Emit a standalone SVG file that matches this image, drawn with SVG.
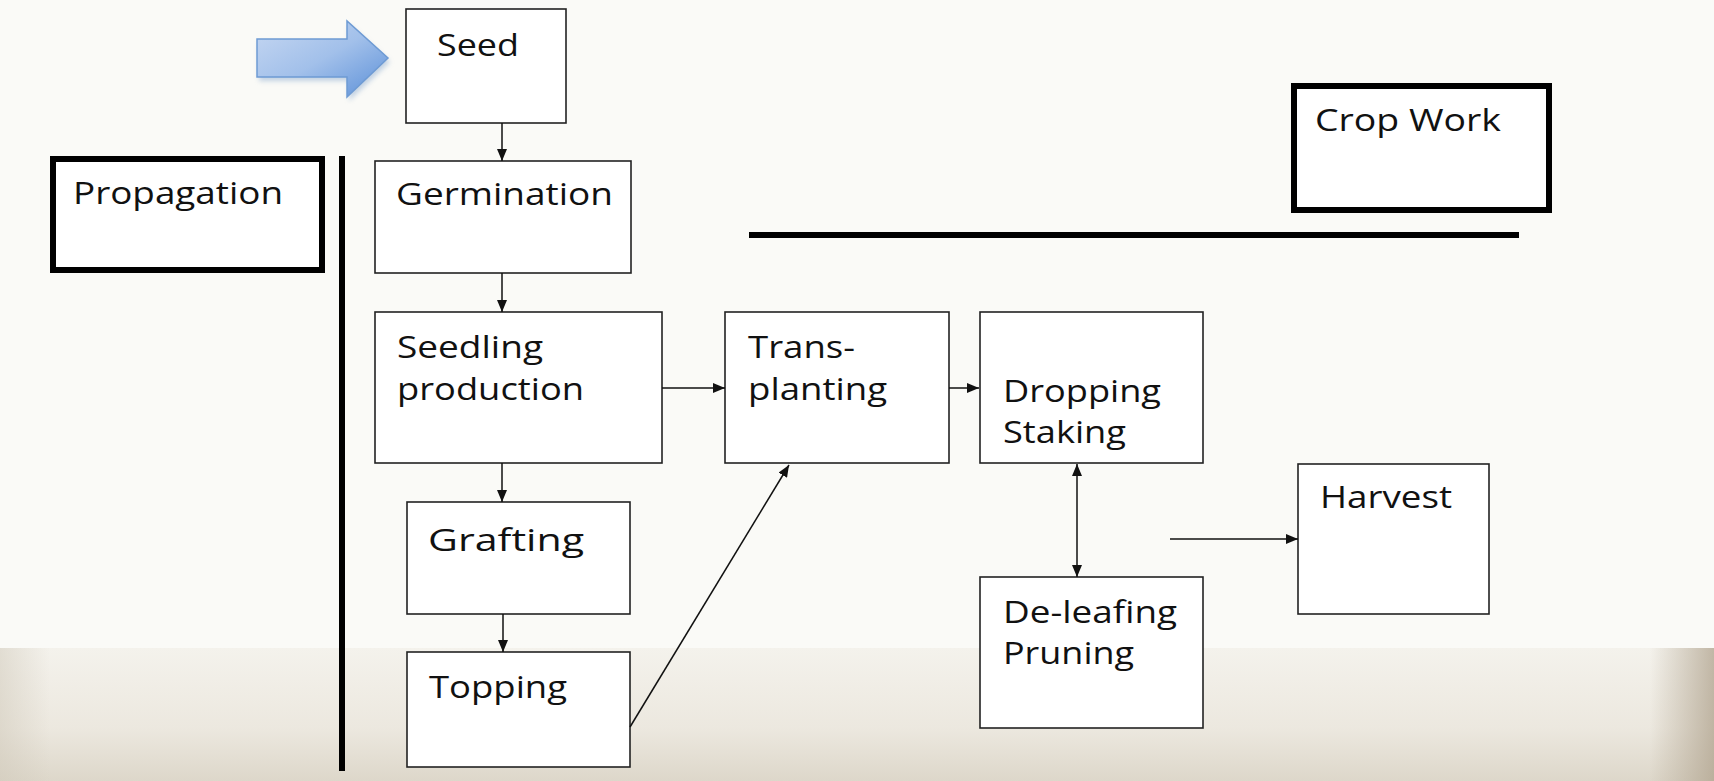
<svg xmlns="http://www.w3.org/2000/svg" width="1714" height="781" viewBox="0 0 1714 781">
<defs>
<linearGradient id="bgLow" x1="0" y1="0" x2="0" y2="1">
<stop offset="0" stop-color="#f4f2ec"/>
<stop offset="0.6" stop-color="#ece8df"/>
<stop offset="1" stop-color="#ddd7ca"/>
</linearGradient>
<linearGradient id="edgeL" x1="0" y1="0" x2="1" y2="0">
<stop offset="0" stop-color="#cfc8b9" stop-opacity="0.5"/>
<stop offset="1" stop-color="#cfc8b9" stop-opacity="0"/>
</linearGradient>
<linearGradient id="edgeR" x1="1" y1="0" x2="0" y2="0">
<stop offset="0" stop-color="#b0a38e" stop-opacity="0.75"/>
<stop offset="1" stop-color="#b0a38e" stop-opacity="0"/>
</linearGradient>
<linearGradient id="blueArrow" x1="0" y1="0" x2="1" y2="1">
<stop offset="0" stop-color="#c7d8f2"/>
<stop offset="0.5" stop-color="#a2c0ea"/>
<stop offset="1" stop-color="#5a8fd8"/>
</linearGradient>
<filter id="soft" x="-20%" y="-20%" width="140%" height="140%">
<feGaussianBlur stdDeviation="2.5"/>
</filter>
<marker id="ah" viewBox="0 0 12 10" refX="12" refY="5" markerWidth="12" markerHeight="10" markerUnits="userSpaceOnUse" orient="auto-start-reverse">
<path d="M0,0 L12,5 L0,10 Z" fill="#111"/>
</marker>
<style>
.box{fill:#fff;stroke:#222;stroke-width:1.6}
.thick{fill:#fff;stroke:#000;stroke-width:6}
.bar{stroke:#000;stroke-width:6;fill:none}
.lbl{font-family:"Open Sans","Noto Sans","Liberation Sans",sans-serif;font-size:31px;fill:#111}
.con{stroke:#111;stroke-width:1.5;fill:none}
</style>
</defs>

<rect x="0" y="0" width="1714" height="781" fill="#fafaf7"/>
<rect x="0" y="648" width="1714" height="133" fill="url(#bgLow)"/>
<rect x="0" y="648" width="50" height="133" fill="url(#edgeL)"/>
<rect x="1650" y="648" width="64" height="133" fill="url(#edgeR)"/>

<g id="blue-arrow">
<path d="M257,39 L347,39 L347,21 L388,58 L347,97 L347,77 L257,77 Z" fill="#8aa9cf" opacity="0.5" filter="url(#soft)" transform="translate(2,4)"/>
<path d="M257,39 L347,39 L347,21 L388,58 L347,97 L347,77 L257,77 Z" fill="url(#blueArrow)" stroke="#6e9bd4" stroke-width="1.5"/>
</g>

<g id="propagation-bar">
<rect class="thick" x="53" y="159" width="269" height="111"/>
<text class="lbl" x="73" y="204" textLength="210" lengthAdjust="spacingAndGlyphs" font-size="30">Propagation</text>
<line class="bar" x1="342" y1="156" x2="342" y2="771"/>
</g>

<g id="cropwork">
<rect class="thick" x="1294" y="86" width="255" height="124"/>
<text class="lbl" x="1315" y="131" textLength="186" lengthAdjust="spacingAndGlyphs">Crop Work</text>
<line class="bar" x1="749" y1="235" x2="1519" y2="235"/>
</g>

<g id="seed">
<rect class="box" x="406" y="9" width="160" height="114"/>
<text class="lbl" x="437" y="56" textLength="82" lengthAdjust="spacingAndGlyphs" font-size="32">Seed</text>
</g>

<g id="germination">
<rect class="box" x="375" y="161" width="256" height="112"/>
<text class="lbl" x="396" y="205" textLength="217" lengthAdjust="spacingAndGlyphs">Germination</text>
</g>

<g id="seedling">
<rect class="box" x="375" y="312" width="287" height="151"/>
<text class="lbl" x="397" y="358" textLength="146" lengthAdjust="spacingAndGlyphs">Seedling</text>
<text class="lbl" x="397" y="400" textLength="187" lengthAdjust="spacingAndGlyphs">production</text>
</g>

<g id="transplanting">
<rect class="box" x="725" y="312" width="224" height="151"/>
<text class="lbl" x="748" y="358" textLength="107" lengthAdjust="spacingAndGlyphs">Trans-</text>
<text class="lbl" x="748" y="400" textLength="139" lengthAdjust="spacingAndGlyphs">planting</text>
</g>

<g id="dropping">
<rect class="box" x="980" y="312" width="223" height="151"/>
<text class="lbl" x="1003" y="402" textLength="158" lengthAdjust="spacingAndGlyphs">Dropping</text>
<text class="lbl" x="1003" y="443" textLength="123" lengthAdjust="spacingAndGlyphs">Staking</text>
</g>

<g id="grafting">
<rect class="box" x="407" y="502" width="223" height="112"/>
<text class="lbl" x="428" y="551" textLength="156" lengthAdjust="spacingAndGlyphs" font-size="35">Grafting</text>
</g>

<g id="topping">
<rect class="box" x="407" y="652" width="223" height="115"/>
<text class="lbl" x="429" y="698" textLength="138" lengthAdjust="spacingAndGlyphs" font-size="32">Topping</text>
</g>

<g id="deleafing">
<rect class="box" x="980" y="577" width="223" height="151"/>
<text class="lbl" x="1003" y="623" textLength="174" lengthAdjust="spacingAndGlyphs">De-leafing</text>
<text class="lbl" x="1003" y="664" textLength="131" lengthAdjust="spacingAndGlyphs">Pruning</text>
</g>

<g id="harvest">
<rect class="box" x="1298" y="464" width="191" height="150"/>
<text class="lbl" x="1320" y="508" textLength="132" lengthAdjust="spacingAndGlyphs">Harvest</text>
</g>

<g id="connectors">
<line class="con" x1="502" y1="123" x2="502" y2="161" marker-end="url(#ah)"/>
<line class="con" x1="502" y1="273" x2="502" y2="312" marker-end="url(#ah)"/>
<line class="con" x1="502" y1="463" x2="502" y2="502" marker-end="url(#ah)"/>
<line class="con" x1="503" y1="614" x2="503" y2="652" marker-end="url(#ah)"/>
<line class="con" x1="662" y1="388" x2="725" y2="388" marker-end="url(#ah)"/>
<line class="con" x1="949" y1="388" x2="979" y2="388" marker-end="url(#ah)"/>
<line class="con" x1="630" y1="727" x2="789" y2="465" marker-end="url(#ah)"/>
<line class="con" x1="1077" y1="464" x2="1077" y2="577" marker-start="url(#ah)" marker-end="url(#ah)"/>
<line class="con" x1="1170" y1="539" x2="1298" y2="539" marker-end="url(#ah)"/>
</g>
</svg>
